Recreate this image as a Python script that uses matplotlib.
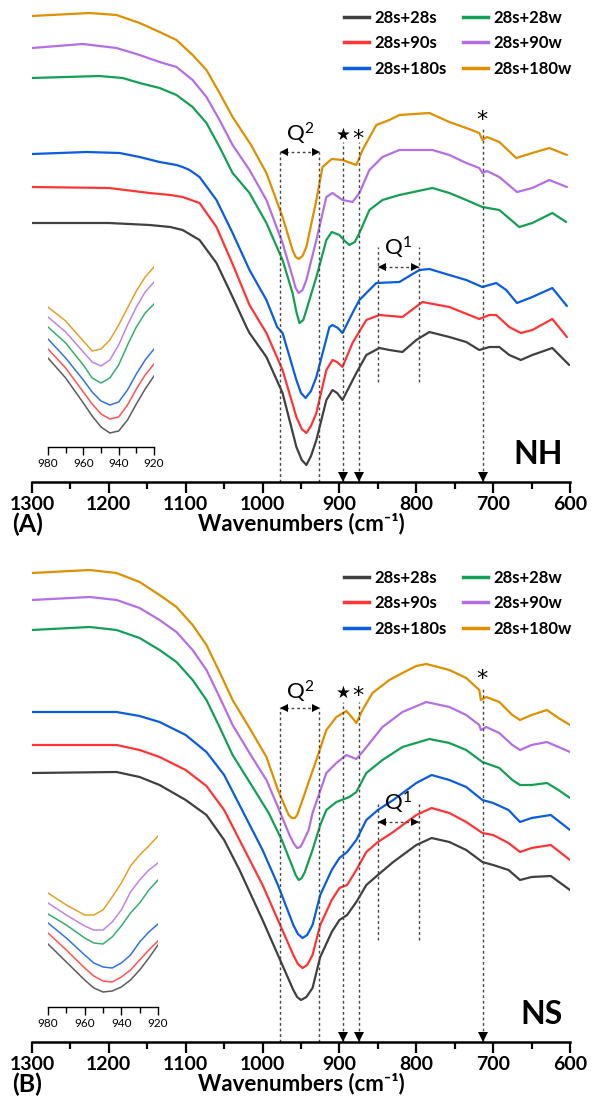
import matplotlib
matplotlib.use("Agg")
import matplotlib.pyplot as plt
from matplotlib.lines import Line2D

plt.rcParams['font.family'] = ['Lato', 'DejaVu Sans']
plt.rcParams['mathtext.fontset'] = 'custom'
plt.rcParams['mathtext.rm'] = 'Lato'
plt.rcParams['mathtext.it'] = 'Lato:italic'
plt.rcParams['mathtext.bf'] = 'Lato:bold'

# ---------------- data ----------------
labels = ['28s+28s', '28s+90s', '28s+180s', '28s+28w', '28s+90w', '28s+180w']
colors = ['#404040', '#ff3535', '#0a5de0', '#13a055', '#b46fe4', '#de9000']

# Panel A (NH) main spectra: wavenumber (cm-1) and intensity (a.u., offset)
a_grey_wn = [1300, 1200, 1147, 1120, 1104, 1082, 1060, 1039, 1021, 1017, 995, 974, 956, 949, 943, 937, 930, 917, 909, 903, 896, 878, 865, 848, 835, 818, 800, 783, 757, 735, 718, 705, 692, 679, 664, 649, 623, 601]
a_grey = [259, 259, 257, 255, 252, 242, 219, 185, 155, 149, 125, 89, 35, 22, 17, 26, 42, 82, 92, 89, 82, 109, 127, 134, 132, 130, 142, 150, 145, 140, 132, 135, 135, 127, 122, 127, 134, 117]
a_red_wn = [1300, 1200, 1147, 1120, 1104, 1082, 1060, 1039, 1017, 995, 974, 956, 949, 943, 937, 930, 917, 909, 903, 896, 883, 865, 848, 818, 792, 757, 718, 705, 696, 679, 664, 649, 623, 604]
a_red = [295, 294, 289, 287, 285, 279, 255, 218, 177, 149, 112, 65, 53, 49, 56, 69, 112, 122, 120, 115, 139, 162, 167, 165, 180, 175, 163, 167, 167, 155, 149, 152, 163, 145]
a_blue_wn = [1300, 1229, 1186, 1160, 1134, 1112, 1104, 1095, 1082, 1060, 1039, 1017, 995, 981, 974, 956, 950, 944, 937, 930, 913, 909, 902, 896, 883, 874, 852, 822, 796, 783, 757, 735, 714, 696, 683, 669, 649, 623, 604]
a_blue = [328, 330, 329, 325, 320, 317, 315, 312, 305, 282, 249, 212, 182, 155, 149, 102, 89, 84, 91, 105, 155, 157, 154, 149, 169, 182, 199, 200, 212, 213, 207, 202, 195, 199, 192, 179, 185, 194, 176]
a_green_wn = [1300, 1212, 1182, 1160, 1134, 1112, 1091, 1073, 1056, 1039, 1017, 995, 974, 961, 956, 952, 947, 943, 930, 917, 910, 900, 893, 887, 880, 874, 861, 844, 822, 779, 757, 735, 714, 692, 666, 649, 623, 605]
a_green = [404, 406, 404, 399, 394, 387, 375, 359, 335, 309, 289, 259, 222, 189, 170, 159, 162, 172, 205, 242, 250, 247, 241, 237, 240, 249, 272, 282, 287, 294, 289, 282, 275, 272, 255, 259, 269, 260]
a_purple_wn = [1300, 1234, 1190, 1160, 1134, 1112, 1091, 1073, 1056, 1039, 1017, 995, 974, 961, 957, 953, 948, 943, 930, 917, 909, 896, 883, 874, 861, 844, 822, 779, 757, 735, 718, 714, 708, 692, 669, 649, 627, 604]
a_purple = [434, 438, 434, 427, 420, 415, 402, 385, 362, 337, 312, 282, 239, 205, 194, 189, 192, 202, 242, 285, 289, 282, 280, 289, 312, 325, 332, 332, 327, 319, 314, 309, 311, 305, 290, 294, 302, 295]
a_orange_wn = [1300, 1225, 1190, 1160, 1134, 1112, 1091, 1073, 1056, 1039, 1015, 995, 974, 961, 957, 953, 948, 943, 930, 922, 910, 896, 878, 870, 852, 835, 822, 783, 757, 735, 718, 714, 708, 692, 670, 649, 627, 604]
a_orange = [466, 469, 467, 459, 450, 442, 427, 412, 389, 365, 337, 309, 265, 232, 225, 223, 226, 235, 282, 315, 323, 322, 317, 332, 357, 362, 367, 369, 360, 354, 349, 342, 345, 340, 324, 329, 334, 327]

# Panel A inset (980-920 cm-1)
inset_wn = [980, 970, 960, 955, 950, 945, 940, 935, 930, 925, 920]
ai_grey = [124, 104, 79, 66, 55, 49, 51, 62, 78, 93, 106]
ai_red = [133, 114, 90, 78, 68, 63, 65, 77, 93, 107, 118]
ai_blue = [143, 124, 102, 90, 81, 77, 80, 92, 108, 122, 133]
ai_green = [155, 139, 117, 104, 99, 104, 117, 137, 155, 169, 178]
ai_purple = [165, 150, 130, 120, 116, 122, 137, 157, 175, 190, 200]
ai_orange = [175, 161, 141, 131, 133, 142, 157, 174, 191, 205, 215]

# Panel B (NS) main spectra
b_grey_wn = [1300, 1190, 1160, 1134, 1100, 1073, 1050, 1030, 1000, 980, 960, 955, 950, 943, 935, 925, 910, 900, 890, 878, 865, 850, 830, 800, 780, 757, 735, 714, 700, 680, 665, 650, 625, 600]
b_grey = [269, 270, 265, 257, 242, 227, 202, 172, 122, 87, 52, 45, 42, 45, 54, 85, 110, 122, 127, 140, 157, 167, 180, 197, 204, 200, 192, 180, 177, 172, 162, 165, 166, 152]
b_red_wn = [1300, 1190, 1160, 1134, 1100, 1073, 1050, 1030, 1000, 980, 960, 954, 948, 942, 935, 925, 910, 900, 890, 878, 865, 850, 830, 800, 780, 757, 735, 714, 700, 680, 665, 650, 625, 600]
b_red = [297, 297, 292, 285, 272, 256, 232, 202, 157, 122, 87, 78, 74, 77, 87, 117, 142, 154, 157, 172, 190, 200, 210, 227, 234, 229, 220, 209, 207, 199, 190, 194, 197, 182]
b_blue_wn = [1300, 1190, 1160, 1134, 1100, 1073, 1050, 1030, 1000, 980, 960, 954, 948, 942, 935, 925, 910, 900, 890, 878, 865, 850, 830, 800, 780, 757, 735, 714, 700, 680, 665, 650, 625, 600]
b_blue = [330, 330, 326, 320, 307, 290, 267, 237, 192, 157, 117, 108, 104, 107, 117, 147, 172, 184, 190, 202, 222, 232, 242, 259, 267, 262, 255, 242, 239, 232, 220, 224, 227, 212]
b_green_wn = [1300, 1225, 1190, 1160, 1134, 1112, 1091, 1073, 1056, 1039, 1017, 992, 975, 962, 957, 953, 949, 945, 935, 925, 917, 904, 887, 878, 865, 844, 818, 783, 757, 735, 714, 692, 675, 665, 650, 630, 615, 600]
b_green = [412, 415, 412, 404, 392, 380, 362, 342, 315, 287, 260, 229, 202, 177, 167, 162, 164, 170, 192, 217, 232, 240, 245, 250, 269, 282, 295, 303, 299, 292, 280, 274, 262, 257, 257, 259, 252, 244]
b_purple_wn = [1300, 1225, 1190, 1160, 1134, 1112, 1091, 1073, 1056, 1039, 1017, 995, 980, 965, 959, 955, 951, 948, 940, 935, 917, 904, 891, 878, 870, 844, 818, 787, 757, 735, 718, 716, 709, 692, 675, 665, 650, 630, 615, 600]
b_purple = [442, 445, 442, 434, 422, 410, 392, 372, 345, 317, 289, 262, 235, 207, 198, 194, 195, 199, 212, 229, 269, 279, 287, 283, 290, 315, 330, 340, 335, 327, 317, 312, 315, 309, 297, 292, 297, 300, 295, 290]
b_orange_wn = [1300, 1225, 1190, 1160, 1134, 1112, 1091, 1073, 1056, 1039, 1017, 995, 980, 970, 966, 962, 958, 955, 948, 940, 930, 917, 904, 891, 883, 878, 870, 857, 835, 818, 800, 787, 757, 735, 718, 716, 709, 692, 675, 665, 650, 630, 615, 600]
b_orange = [469, 472, 469, 460, 447, 435, 417, 397, 370, 342, 314, 285, 252, 234, 227, 224, 224, 227, 242, 260, 282, 312, 325, 331, 324, 319, 332, 349, 362, 369, 376, 378, 372, 364, 352, 342, 345, 340, 327, 322, 327, 332, 324, 317]

# Panel B inset (980-920 cm-1)
bi_grey = [98, 80, 62, 54, 50, 51, 55, 62, 72, 84, 97]
bi_red = [109, 92, 74, 66, 61, 60, 65, 72, 82, 92, 101]
bi_blue = [119, 104, 87, 79, 75, 74, 79, 87, 100, 110, 118]
bi_green = [128, 117, 104, 99, 98, 105, 116, 129, 139, 152, 162]
bi_purple = [139, 127, 116, 112, 112, 120, 132, 150, 162, 172, 179]
bi_orange = [149, 137, 127, 127, 132, 145, 159, 176, 187, 196, 206]

major_ticks = [1300, 1200, 1100, 1000, 900, 800, 700, 600]
minor_ticks = [1250, 1150, 1050, 950, 850, 750, 650]
inset_major = [980, 960, 940, 920]
inset_minor = [970, 950, 930]

# marked band positions
q2_band = (977, 926)
q1_band = (850, 797)
star_pos = 895
ast_pos = 875
ast2_pos = 713

# ---------------- layout ----------------
W, H = 595, 1108
fig = plt.figure(figsize=(W / 100, H / 100), dpi=100)


def px_axes(x0, x1, ytop, ybot):
    return fig.add_axes([x0 / W, 1 - ybot / H, (x1 - x0) / W, (ybot - ytop) / H])


def style_main(ax):
    ax.set_xlim(1300, 600)
    ax.set_ylim(0, 477)
    for s in ['top', 'left', 'right']:
        ax.spines[s].set_visible(False)
    ax.spines['bottom'].set_linewidth(1.8)
    ax.set_yticks([])
    ax.set_xticks(major_ticks)
    ax.set_xticks(minor_ticks, minor=True)
    ax.tick_params(axis='x', which='major', direction='out', length=8, width=1.6,
                   labelsize=14, pad=2)
    ax.tick_params(axis='x', which='minor', direction='out', length=5, width=1.6)
    for t in ax.get_xticklabels():
        t.set_fontweight('bold')
    ax.patch.set_alpha(0)


def style_inset(ax):
    ax.set_xlim(980, 920)
    ax.set_ylim(35, 232)
    for s in ['top', 'left', 'right']:
        ax.spines[s].set_visible(False)
    ax.spines['bottom'].set_linewidth(1.0)
    ax.set_yticks([])
    ax.set_xticks(inset_major)
    ax.set_xticks(inset_minor, minor=True)
    ax.tick_params(axis='x', which='major', direction='out', length=6, width=1.0,
                   labelsize=8.5, pad=2)
    ax.tick_params(axis='x', which='minor', direction='out', length=4, width=1.0)
    ax.patch.set_alpha(0)


def annotate(ax, cfg):
    dot = dict(color='#444444', lw=1.0, ls=(0, (2, 2)))
    # Q2
    for w in q2_band:
        ax.plot([w, w], [0, cfg['q2_arrow']], **dot)
    ax.plot(q2_band, [cfg['q2_arrow']] * 2, **dot)
    ax.plot([q2_band[0] - 5], [cfg['q2_arrow']], marker='<', color='k', ms=6, mew=0)
    ax.plot([q2_band[1] + 5], [cfg['q2_arrow']], marker='>', color='k', ms=6, mew=0)
    ax.text(sum(q2_band) / 2, cfg['q2_label'], r'$\mathrm{Q}^{2}$', ha='center', va='center',
            fontsize=16)
    # star / asterisks
    for w, top in [(star_pos, cfg['line_top']), (ast_pos, cfg['line_top']), (ast2_pos, cfg['ast2_top'])]:
        ax.plot([w, w], [0, top], **dot)
        ax.plot([w], [5], marker='v', color='k', ms=7, mew=0, clip_on=False)
    ax.text(star_pos, cfg['star'], '\u2605', ha='center', va='center', fontsize=12,
            family='DejaVu Sans')
    ax.text(ast_pos + 1, cfg['ast'], '*', ha='center', va='center', fontsize=16,
            family='DejaVu Sans')
    ax.text(ast2_pos + 1, cfg['ast2'], '*', ha='center', va='center', fontsize=16,
            family='DejaVu Sans')
    # Q1
    for w in q1_band:
        ax.plot([w, w], [cfg['q1_bot'], cfg['q1_top']], **dot)
    ax.plot(q1_band, [cfg['q1_arrow']] * 2, **dot)
    ax.plot([q1_band[0] - 5], [cfg['q1_arrow']], marker='<', color='k', ms=6, mew=0)
    ax.plot([q1_band[1] + 5], [cfg['q1_arrow']], marker='>', color='k', ms=6, mew=0)
    ax.text(sum(q1_band) / 2, cfg['q1_label'], r'$\mathrm{Q}^{1}$', ha='center', va='center',
            fontsize=16)
    # panel name
    ax.text(609, 28, cfg['name'], ha='right', va='center', fontsize=23, fontweight='bold')


def legend(ax, ytop):
    handles = [Line2D([0], [0], color=c, lw=2.5) for c in colors]
    ax.legend(handles, labels, ncol=2, loc='upper left',
              bbox_to_anchor=(344 / W, 1 - ytop / H), bbox_transform=fig.transFigure,
              frameon=False, prop=dict(family='Lato', weight='bold', size=12),
              handlelength=1.5, handletextpad=0.3, columnspacing=1.0,
              labelspacing=0.56, borderpad=0, borderaxespad=0)


panels = [
    dict(top=5, bot=482, inset=(48, 154, 250, 447), letter='(A)', name='NH',
         main=[(a_grey_wn, a_grey), (a_red_wn, a_red), (a_blue_wn, a_blue),
               (a_green_wn, a_green), (a_purple_wn, a_purple), (a_orange_wn, a_orange)],
         ins=[ai_grey, ai_red, ai_blue, ai_green, ai_purple, ai_orange],
         q2_arrow=330, q2_label=348, line_top=340, star=347, ast=343, ast2_top=355, ast2=362,
         q1_top=235, q1_bot=100, q1_arrow=215, q1_label=234),
    dict(top=565, bot=1042, inset=(48, 158, 810, 1007), letter='(B)', name='NS',
         main=[(b_grey_wn, b_grey), (b_red_wn, b_red), (b_blue_wn, b_blue),
               (b_green_wn, b_green), (b_purple_wn, b_purple), (b_orange_wn, b_orange)],
         ins=[bi_grey, bi_red, bi_blue, bi_green, bi_purple, bi_orange],
         q2_arrow=334, q2_label=350, line_top=340, star=349, ast=346, ast2_top=355, ast2=363,
         q1_top=239, q1_bot=102, q1_arrow=220, q1_label=239),
]

for p in panels:
    ax = px_axes(32, 570, p['top'], p['bot'])
    style_main(ax)
    for (wn, val), c in zip(p['main'], colors):
        ax.plot(wn, val, color=c, lw=1.6, solid_joinstyle='round', solid_capstyle='round')
    annotate(ax, p)
    legend(ax, p['top'] + 5)
    ax.text(0.5, -42 / 477, 'Wavenumbers (cm\u207b\u00b9)', transform=ax.transAxes,
            ha='center', va='center', fontsize=16, fontweight='bold')
    ax.text(-20 / 538, -42 / 477, p['letter'], transform=ax.transAxes, ha='left', va='center',
            fontsize=18, fontweight='bold')

    x0, x1, yt, yb = p['inset']
    axi = px_axes(x0, x1, yt, yb)
    style_inset(axi)
    for val, c in zip(p['ins'], colors):
        axi.plot(inset_wn, val, color=c, lw=1.1, alpha=0.85)

fig.savefig('out.png', dpi=100)
